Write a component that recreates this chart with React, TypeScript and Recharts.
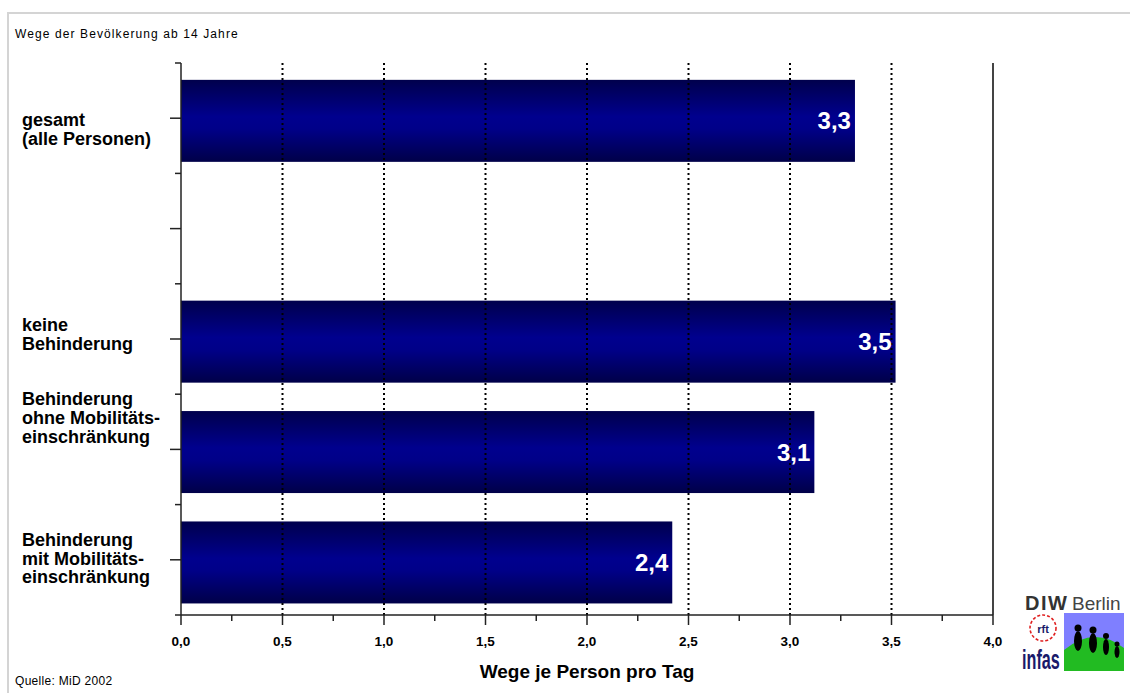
import { BarChart, Bar, XAxis, YAxis, ReferenceLine, LabelList } from 'recharts';

// categories (the second slot is the empty gap under "gesamt")
const categories = ['gesamt', 'luecke', 'keine', 'ohne', 'mit'];
const categoryLines = [
  ['gesamt', '(alle Personen)'],
  [],
  ['keine', 'Behinderung'],
  ['Behinderung', 'ohne Mobilitäts-', 'einschränkung'],
  ['Behinderung', 'mit Mobilitäts-', 'einschränkung'],
];
const tripsPerDay = [3.32, null, 3.52, 3.12, 2.42];
const xTicks = [0, 0.25, 0.5, 0.75, 1, 1.25, 1.5, 1.75, 2, 2.25, 2.5, 2.75, 3, 3.25, 3.5, 3.75, 4];
const gridValues = [0.5, 1, 1.5, 2, 2.5, 3, 3.5];

const title = 'Wege der Bevölkerung ab 14 Jahre';
const source = 'Quelle: MiD 2002';
const xLabel = 'Wege je Person pro Tag';

const W = 1130;
const H = 693;
const margin = { top: 63, right: 137, bottom: 8, left: 11 };
const yAxisWidth = 170;
const xAxisHeight = 70;
const halfBand = (H - margin.top - margin.bottom - xAxisHeight) / categories.length / 2;
// first baseline of each label block relative to its tick
const labelShift = [8, 0, -8, -44, -14];
const lineStep = 18.7;

const data = categories.map((c, i) => ({ id: c, value: tripsPerDay[i] }));

const fmt = (v: any) => (v == null ? '' : Number(v).toFixed(1).replace('.', ','));

const CategoryTick = (props: any) => {
  const { x, y, index } = props;
  const lines = categoryLines[index] || [];
  const first = y + labelShift[index];
  return (
    <g>
      <line x1={x - 11} x2={x} y1={y} y2={y} stroke="#222" strokeWidth={1.5} />
      <line x1={x - 6} x2={x} y1={y - halfBand} y2={y - halfBand} stroke="#222" strokeWidth={1.5} />
      {index === categories.length - 1 && (
        <line x1={x - 6} x2={x} y1={y + halfBand} y2={y + halfBand} stroke="#222" strokeWidth={1.5} />
      )}
      {lines.map((l, i) => (
        <text key={i} x={22} y={first + i * lineStep} fontSize={18} fontWeight="bold" fill="#000">
          {l}
        </text>
      ))}
    </g>
  );
};

const ValueTick = (props: any) => {
  const { x, y, payload } = props;
  const major = Math.abs((payload.value * 2) % 1) < 1e-6;
  return (
    <g>
      <line x1={x} x2={x} y1={y} y2={y + (major ? 10 : 6)} stroke="#222" strokeWidth={1.5} />
      {major && (
        <text x={x} y={y + 31} textAnchor="middle" fontSize={13.5} fontWeight="bold" fill="#000">
          {fmt(payload.value)}
        </text>
      )}
    </g>
  );
};

const GradientBar = (p: any) => {
  if (!p.width || p.width <= 0) return <g />;
  return <rect x={p.x} y={p.y + 2.5} width={p.width} height={p.height} fill="url(#barGrad)" />;
};

const Logo = () => (
  <g>
    <text x={1025} y={610} fontSize={20} fontWeight="bold" letterSpacing={1.5} fill="#333">DIW</text>
    <text x={1072} y={610} fontSize={19} fill="#444">Berlin</text>
    <circle cx={1043} cy={628} r={13} fill="none" stroke="#e02020" strokeWidth={1.6} strokeDasharray="3 2" />
    <text x={1043} y={633} fontSize={11} fontWeight="bold" fill="#1a1a6a" textAnchor="middle">rft</text>
    <text
      x={1022}
      y={669}
      fontSize={27}
      fill="#1a1a6a"
      transform="translate(1022 669) scale(0.6 1) translate(-1022 -669)"
      fontWeight="bold"
    >
      infas
    </text>
    <rect x={1064} y={613} width={60} height={58} fill="#7f7fff" />
    <path d="M1064 671 L1064 650 Q1094 625 1124 648 L1124 671 Z" fill="#22bb22" />
    <ellipse cx={1078} cy={641} rx={4} ry={10} fill="#000" />
    <circle cx={1078} cy={628} r={3.5} fill="#000" />
    <ellipse cx={1093} cy={643} rx={4} ry={10} fill="#000" />
    <circle cx={1093} cy={630} r={3.5} fill="#000" />
    <ellipse cx={1106} cy={647} rx={3} ry={8} fill="#000" />
    <circle cx={1106} cy={636} r={3} fill="#000" />
    <ellipse cx={1117} cy={652} rx={2.5} ry={6} fill="#000" />
    <circle cx={1117} cy={644} r={2.5} fill="#000" />
  </g>
);

export default function App() {
  return (
    <div
      style={{
        position: 'absolute',
        left: 0,
        top: 0,
        width: W,
        height: H,
        overflow: 'hidden',
        background: '#fff',
        fontFamily: '"Liberation Sans", Arial, sans-serif',
      }}
    >
      <div
        style={{
          position: 'absolute',
          left: 7,
          top: 12,
          width: 1300,
          height: 900,
          border: '2px solid #d4d4d4',
        }}
      />
      <div style={{ position: 'absolute', left: 0, top: 0 }}>
        <BarChart width={W} height={H} data={data} layout="vertical" margin={margin} barCategoryGap="13%">
          <defs>
            <linearGradient id="barGrad" x1="0" y1="0" x2="0" y2="1">
              <stop offset="0%" stopColor="#00004c" />
              <stop offset="45%" stopColor="#00008e" />
              <stop offset="60%" stopColor="#000088" />
              <stop offset="100%" stopColor="#000048" />
            </linearGradient>
          </defs>
          <XAxis
            type="number"
            domain={[0, 4]}
            ticks={xTicks}
            interval={0}
            height={xAxisHeight}
            tickSize={0}
            tickMargin={0}
            tickLine={false}
            tick={<ValueTick />}
            axisLine={{ stroke: '#222', strokeWidth: 1.5 }}
            label={{ value: xLabel, position: 'insideBottom', offset: 7, fontSize: 19, fontWeight: 'bold', fill: '#000' }}
          />
          <XAxis
            xAxisId="top"
            orientation="top"
            type="number"
            domain={[0, 4]}
            height={0}
            tick={false}
            tickLine={false}
            axisLine={{ stroke: '#444', strokeWidth: 1.5 }}
          />
          <YAxis
            type="category"
            dataKey="id"
            width={yAxisWidth}
            interval={0}
            tickSize={0}
            tickMargin={0}
            tickLine={false}
            tick={<CategoryTick />}
            axisLine={{ stroke: '#222', strokeWidth: 1.5 }}
          />
          {gridValues.map((g) => (
            <ReferenceLine key={g} x={g} stroke="#000" strokeWidth={2} strokeDasharray="2 3" />
          ))}
          <ReferenceLine x={4} stroke="#444" strokeWidth={2} />
          <Bar dataKey="value" fill="url(#barGrad)" shape={<GradientBar />} isAnimationActive={false}>
            <LabelList
              dataKey="value"
              position="insideRight"
              offset={4}
              dy={2.5}
              formatter={fmt}
              fill="#fff"
              fontSize={24}
              fontWeight="bold"
            />
          </Bar>
        </BarChart>
      </div>
      <svg width={W} height={H} style={{ position: 'absolute', left: 0, top: 0, pointerEvents: 'none' }}>
        <text x={15} y={38} fontSize={12} letterSpacing={1.1} fill="#000">{title}</text>
        <text x={15} y={685} fontSize={12} letterSpacing={0.3} fill="#000">{source}</text>
        <Logo />
      </svg>
    </div>
  );
}
